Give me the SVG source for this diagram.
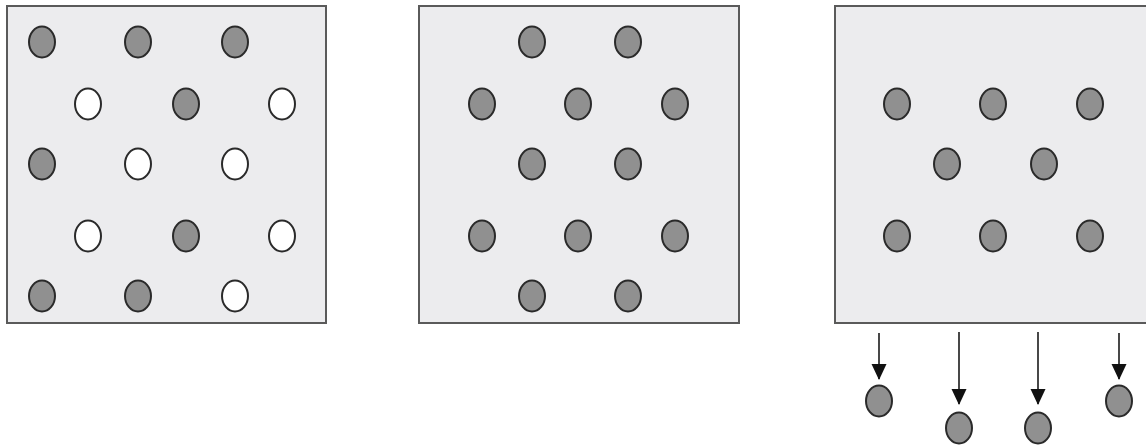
<svg xmlns="http://www.w3.org/2000/svg" width="1146" height="445" viewBox="0 0 1146 445">
<style>
.panel{fill:#ececee;stroke:#5a5a5a;stroke-width:2}
.g{fill:#909090;stroke:#2a2a2a;stroke-width:2}
.w{fill:#ffffff;stroke:#2a2a2a;stroke-width:2}
.arr{stroke:#1a1a1a;stroke-width:1.6;fill:none;marker-end:url(#ah)}
</style>
<defs>
<marker id="ah" markerUnits="userSpaceOnUse" markerWidth="16" markerHeight="16" viewBox="0 0 16 16" refX="15" refY="8" orient="auto">
<path d="M0,0.5 L16,8 L0,15.5 Z" fill="#111"/>
</marker>
</defs>
<rect width="1146" height="445" fill="#ffffff"/>
<g id="panel1">
<rect class="panel" x="7" y="6" width="319" height="317"/>
<ellipse class="g" cx="42" cy="42" rx="13" ry="15.5"/>
<ellipse class="g" cx="138" cy="42" rx="13" ry="15.5"/>
<ellipse class="g" cx="235" cy="42" rx="13" ry="15.5"/>
<ellipse class="w" cx="88" cy="104" rx="13" ry="15.5"/>
<ellipse class="g" cx="186" cy="104" rx="13" ry="15.5"/>
<ellipse class="w" cx="282" cy="104" rx="13" ry="15.5"/>
<ellipse class="g" cx="42" cy="164" rx="13" ry="15.5"/>
<ellipse class="w" cx="138" cy="164" rx="13" ry="15.5"/>
<ellipse class="w" cx="235" cy="164" rx="13" ry="15.5"/>
<ellipse class="w" cx="88" cy="236" rx="13" ry="15.5"/>
<ellipse class="g" cx="186" cy="236" rx="13" ry="15.5"/>
<ellipse class="w" cx="282" cy="236" rx="13" ry="15.5"/>
<ellipse class="g" cx="42" cy="296" rx="13" ry="15.5"/>
<ellipse class="g" cx="138" cy="296" rx="13" ry="15.5"/>
<ellipse class="w" cx="235" cy="296" rx="13" ry="15.5"/>
</g>
<g id="panel2">
<rect class="panel" x="419" y="6" width="320" height="317"/>
<ellipse class="g" cx="532" cy="42" rx="13" ry="15.5"/>
<ellipse class="g" cx="628" cy="42" rx="13" ry="15.5"/>
<ellipse class="g" cx="482" cy="104" rx="13" ry="15.5"/>
<ellipse class="g" cx="578" cy="104" rx="13" ry="15.5"/>
<ellipse class="g" cx="675" cy="104" rx="13" ry="15.5"/>
<ellipse class="g" cx="532" cy="164" rx="13" ry="15.5"/>
<ellipse class="g" cx="628" cy="164" rx="13" ry="15.5"/>
<ellipse class="g" cx="482" cy="236" rx="13" ry="15.5"/>
<ellipse class="g" cx="578" cy="236" rx="13" ry="15.5"/>
<ellipse class="g" cx="675" cy="236" rx="13" ry="15.5"/>
<ellipse class="g" cx="532" cy="296" rx="13" ry="15.5"/>
<ellipse class="g" cx="628" cy="296" rx="13" ry="15.5"/>
</g>
<g id="panel3">
<rect class="panel" x="835" y="6" width="320" height="317"/>
<ellipse class="g" cx="897" cy="104" rx="13" ry="15.5"/>
<ellipse class="g" cx="993" cy="104" rx="13" ry="15.5"/>
<ellipse class="g" cx="1090" cy="104" rx="13" ry="15.5"/>
<ellipse class="g" cx="947" cy="164" rx="13" ry="15.5"/>
<ellipse class="g" cx="1044" cy="164" rx="13" ry="15.5"/>
<ellipse class="g" cx="897" cy="236" rx="13" ry="15.5"/>
<ellipse class="g" cx="993" cy="236" rx="13" ry="15.5"/>
<ellipse class="g" cx="1090" cy="236" rx="13" ry="15.5"/>
</g>
<g id="released">
<ellipse class="g" cx="879" cy="401" rx="13" ry="15.5"/>
<ellipse class="g" cx="959" cy="428" rx="13" ry="15.5"/>
<ellipse class="g" cx="1038" cy="428" rx="13" ry="15.5"/>
<ellipse class="g" cx="1119" cy="401" rx="13" ry="15.5"/>
</g>
<g id="connectors">
<line class="arr" x1="879" y1="333" x2="879" y2="379"/>
<line class="arr" x1="959" y1="332" x2="959" y2="404"/>
<line class="arr" x1="1038" y1="332" x2="1038" y2="404"/>
<line class="arr" x1="1119" y1="333" x2="1119" y2="379"/>
</g>
</svg>
